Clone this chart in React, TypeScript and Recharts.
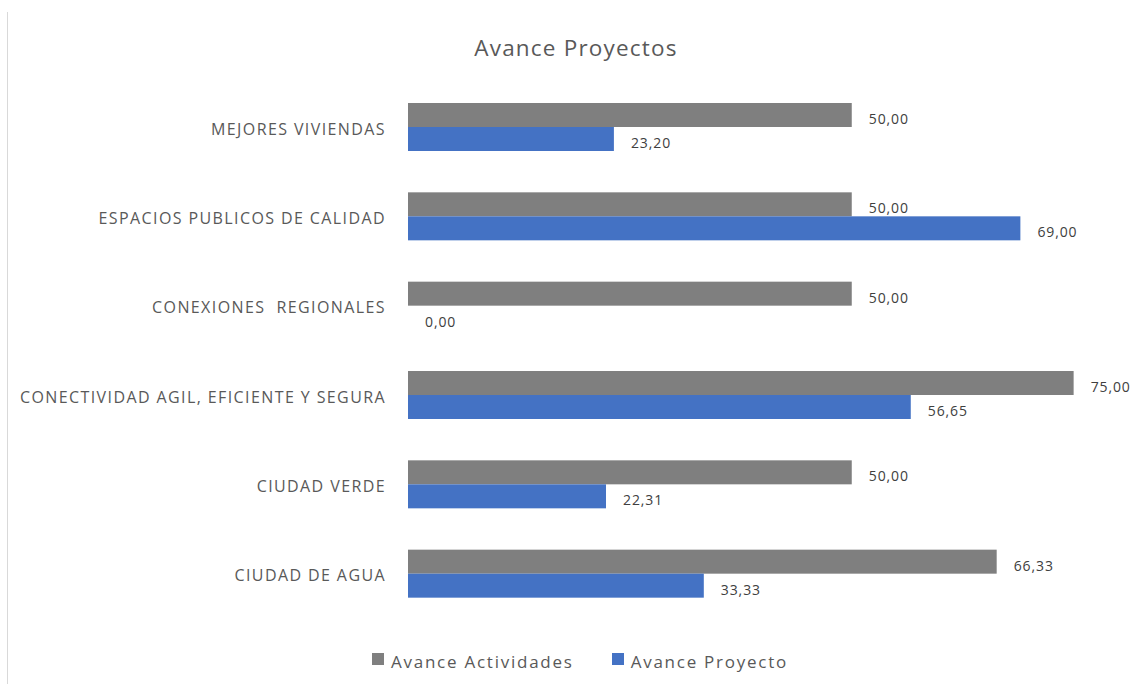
import {Bar, BarChart, XAxis, YAxis} from "recharts";

const categories = [
    "MEJORES VIVIENDAS",
    "ESPACIOS PUBLICOS DE CALIDAD",
    "CONEXIONES\u00a0 REGIONALES",
    "CONECTIVIDAD AGIL, EFICIENTE Y SEGURA",
    "CIUDAD VERDE",
    "CIUDAD DE AGUA",
];
const avanceActividades = [50, 50, 50, 75, 50, 66.33];
const avanceProyecto = [23.2, 69, 0, 56.65, 22.31, 33.33];

const data = categories.map((name, i) => ({
    name,
    actividades: avanceActividades[i],
    proyecto: avanceProyecto[i],
}));

const GRAY = "#7f7f7f";
const BLUE = "#4472c4";
const FONT = "'Open Sans', sans-serif";

const fmt = (v: number) => v.toFixed(2).replace(".", ",");

// bar plus its value label, so a zero-length bar still gets "0,00"
function BarWithLabel(props: any) {
    const {x, y, width, height, fill, value} = props;
    const v = Array.isArray(value) ? value[1] - value[0] : value;
    return <g>
        {width > 0 && <rect x={x} y={y} width={width} height={height} fill={fill}/>}
        <text
            x={x + width + 17}
            y={y + height / 2 + 9}
            fontSize={14}
            fill="#404040"
            fontFamily={FONT}
            letterSpacing={0.9}
        >
            {fmt(v)}
        </text>
    </g>
}

function CategoryTick(props: any) {
    const {x, y, payload} = props;
    return <text
        x={x}
        y={y}
        dy={8}
        textAnchor="end"
        fontSize={16}
        fill="#595959"
        fontFamily={FONT}
        letterSpacing={1.4}
    >
        {payload.value}
    </text>
}

function LegendBox() {
    const item = (color: string, text: string, gap: number) => (
        <div style={{display: "flex", alignItems: "center", marginRight: gap}}>
            <div style={{width: 12, height: 12, background: color, marginRight: 7, marginTop: -5}}/>
            <span style={{fontSize: 17, color: "#595959", letterSpacing: 1.75}}>{text}</span>
        </div>
    );
    return <div style={{
        position: "absolute", left: 372, top: 650, display: "flex", fontFamily: FONT,
    }}>
        {item(GRAY, "Avance Actividades", 38)}
        {item(BLUE, "Avance Proyecto", 0)}
    </div>
}

export default function App() {
    return (
        <div style={{position: "absolute", left: 0, top: 0, width: 1138, height: 684, background: "#fff"}}>
            <div style={{
                position: "absolute", left: 7, top: 12, width: 1, height: 672, background: "#d9d9d9",
            }}/>
            <div style={{
                position: "absolute", left: 0, width: 1152, top: 32, textAlign: "center",
                fontFamily: FONT, fontSize: 22.5, color: "#595959", letterSpacing: 1.2,
            }}>
                Avance Proyectos
            </div>
            <BarChart
                width={1138}
                height={684}
                data={data}
                layout="vertical"
                margin={{top: 82, right: 20, bottom: 66, left: 0}}
                barGap={0}
                barCategoryGap={20}
            >
                <XAxis type="number" domain={[0, 80]} hide/>
                <YAxis
                    type="category"
                    dataKey="name"
                    width={408}
                    axisLine={false}
                    tickLine={false}
                    tickSize={0}
                    tickMargin={22}
                    tick={<CategoryTick/>}
                    interval={0}
                />
                <Bar dataKey="actividades" name="Avance Actividades" fill={GRAY} barSize={24}
                     shape={<BarWithLabel/>} isAnimationActive={false}/>
                <Bar dataKey="proyecto" name="Avance Proyecto" fill={BLUE} barSize={24}
                     shape={<BarWithLabel/>} isAnimationActive={false}/>
            </BarChart>
            <LegendBox/>
        </div>
    );
}
